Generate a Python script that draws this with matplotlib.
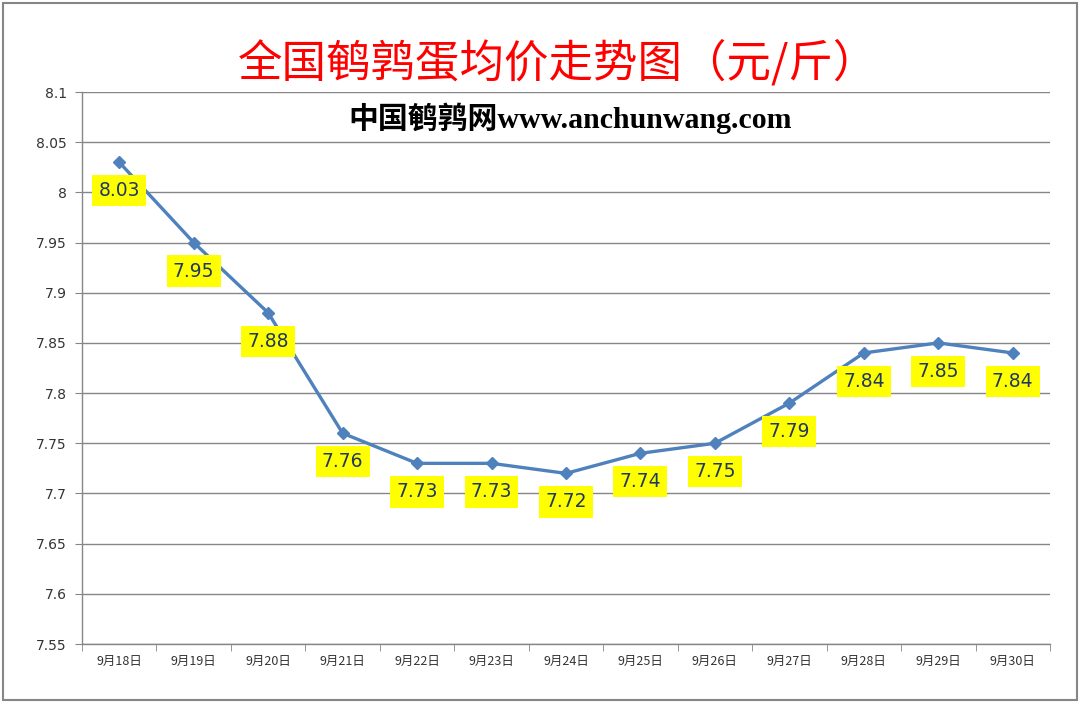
import matplotlib
matplotlib.use("Agg")
import matplotlib.pyplot as plt
from matplotlib.patches import Rectangle

plt.rcParams['font.family'] = ['Noto Sans CJK SC', 'DejaVu Sans']

dates = ["9月18日", "9月19日", "9月20日", "9月21日", "9月22日", "9月23日", "9月24日",
         "9月25日", "9月26日", "9月27日", "9月28日", "9月29日", "9月30日"]
prices = [8.03, 7.95, 7.88, 7.76, 7.73, 7.73, 7.72, 7.74, 7.75, 7.79, 7.84, 7.85, 7.84]
yticks = [7.55, 7.6, 7.65, 7.7, 7.75, 7.8, 7.85, 7.9, 7.95, 8, 8.05, 8.1]
ytick_labels = ["7.55", "7.6", "7.65", "7.7", "7.75", "7.8", "7.85", "7.9", "7.95", "8", "8.05", "8.1"]


def main():
    fig = plt.figure(figsize=(10.8, 7.02), dpi=100)
    ax = fig.add_axes([82 / 1080, 58 / 702, 968 / 1080, 552 / 702])

    x = list(range(len(dates)))
    ax.plot(x, prices, color='#4F81BD', lw=2.4, marker='D', ms=6, zorder=3)

    # data labels in yellow boxes just under each point
    for xi, v in zip(x, prices):
        ax.annotate(f"{v:.2f}", (xi, v), xytext=(0, -20.5), textcoords='offset points',
                    ha='center', va='center', fontsize=13.5, color='#1F3864',
                    family=['DejaVu Sans'],
                    bbox=dict(boxstyle='square,pad=0.33', fc='#FFFF00', ec='none'), zorder=4)

    ax.set_xlim(-0.5, len(dates) - 0.5)
    ax.set_ylim(7.55, 8.1)
    ax.set_yticks(yticks)
    ax.set_yticklabels(ytick_labels, fontsize=10, color='#333333', family=['DejaVu Sans'])
    ax.set_xticks(x)
    ax.set_xticklabels(dates, fontsize=9, color='#333333')
    ax.set_xticks([i - 0.5 for i in range(len(dates) + 1)], minor=True)
    ax.tick_params(axis='x', which='major', length=0, pad=8)
    ax.tick_params(axis='x', which='minor', length=5, color='#868686')
    ax.tick_params(axis='y', length=5, color='#868686', pad=6)

    ax.grid(axis='y', color='#868686', lw=1)
    ax.set_axisbelow(True)
    for s in ['top', 'right']:
        ax.spines[s].set_visible(False)
    for s in ['left', 'bottom']:
        ax.spines[s].set_color('#868686')
        ax.spines[s].set_linewidth(1)

    fig.text(0.517, 0.910, "全国鹌鹑蛋均价走势图（元/斤）", ha='center', va='center',
             fontsize=32, color='#FF0000')
    fig.text(0.528, 0.832, "中国鹌鹑网www.anchunwang.com", ha='center', va='center',
             fontsize=21.5, fontweight='bold', color='#000000',
             family=['Liberation Serif', 'Noto Sans CJK SC'])

    fig.patches.append(Rectangle((3 / 1080, 2 / 702), 1074 / 1080, 697 / 702,
                                 transform=fig.transFigure, fill=False,
                                 ec='#868686', lw=1.5))

    fig.savefig("out.png", dpi=100)


if __name__ == "__main__":
    main()
